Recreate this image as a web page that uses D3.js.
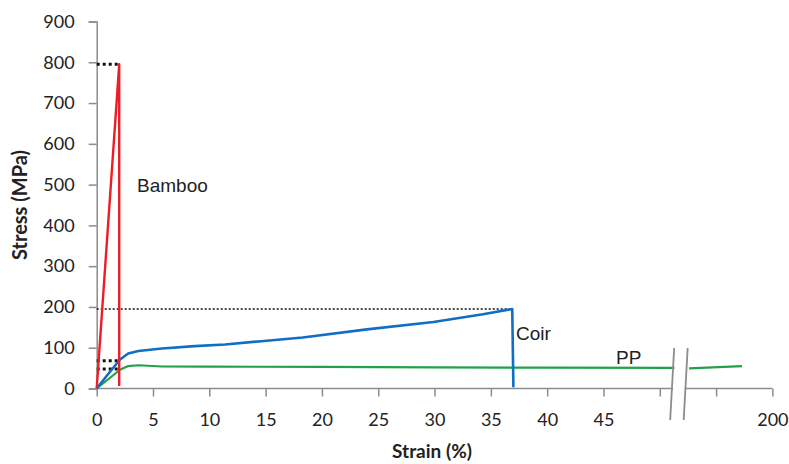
<!DOCTYPE html>
<html><head><meta charset="utf-8">
<script src="https://cdn.jsdelivr.net/npm/d3@7"></script>
<style>html,body{margin:0;padding:0;background:#fff;}svg{display:block;}</style>
</head><body>
<script>
// Axis ticks (display units; after the break 60 stands for 200 %)
const strainTicks = [0,5,10,15,20,25,30,35,40,45,50,55,60];
const strainTickLabels = ["0","5","10","15","20","25","30","35","40","45","","","200"];
const stressTicks = [0,100,200,300,400,500,600,700,800,900];

// Bamboo
const bambooStrain = [0, 2.0, 2.0];
const bambooStress = [0, 795, 6];

// Coir
const coirStrain = [0, 1.0, 2.07, 2.8, 3.7, 5.8, 8.7, 11.4, 14.6, 18.3, 24, 29.9, 34.3, 36.9, 37.0];
const coirStress = [0, 35, 71, 86, 92, 98, 104, 108, 116, 125, 145, 163, 182, 195, 3];

// PP (two segments either side of the axis break)
const ppStrainA = [0, 2.07, 2.8, 3.7, 5.8, 10, 20, 30, 40, 51.3];
const ppStressA = [0, 46, 55, 57, 54, 53.5, 53, 52, 51, 50.5];
const ppStrainB = [52.6, 57.3];
const ppStressB = [49.5, 55];

// Reference (dotted) levels
const refLevels = [795, 195, 68, 48];
const refEnds = [2.0, 36.9, 2.07, 2.07];

const W = 789, H = 464;
const svg = d3.select("body").append("svg").attr("width", W).attr("height", H);
const x = d3.scaleLinear().domain([0, 60]).range([96.7, 772.4]);
const y = d3.scaleLinear().domain([0, 900]).range([388.5, 21.5]);
const font = "Lato, 'Open Sans', sans-serif";
const axisColor = "#8c8c8c";

// Axes
const gx = svg.append("g").attr("transform", `translate(0,${y(0)})`)
  .call(d3.axisBottom(x).tickValues(strainTicks).tickSize(8).tickPadding(17)
    .tickFormat((d,i) => strainTickLabels[i]));
const gy = svg.append("g").attr("transform", `translate(${x(0)},0)`)
  .call(d3.axisLeft(y).tickValues(stressTicks).tickSize(8).tickPadding(14));
[gx, gy].forEach(g => {
  g.select(".domain").attr("stroke", axisColor).attr("stroke-width", 1.5);
  g.selectAll(".tick line").attr("stroke", axisColor).attr("stroke-width", 1.5);
  g.selectAll(".tick text").attr("fill", "#222").style("font-family", font).style("font-size", "18px");
});
gx.select(".domain").attr("d", `M${x(0)},0H${x(60)}`);

// Reference dotted lines
const line = d3.line().x(d => x(d[0])).y(d => y(d[1]));
refLevels.forEach((v, i) => {
  svg.append("path").attr("d", line([[0, v], [refEnds[i], v]]))
    .attr("fill", "none").attr("stroke", "#111")
    .attr("stroke-width", i === 1 ? 1.6 : 3)
    .attr("stroke-dasharray", i === 1 ? "2,2" : "3,3");
});

function series(xs, ys, color, w) {
  svg.append("path").attr("d", line(xs.map((d, i) => [d, ys[i]])))
    .attr("fill", "none").attr("stroke", color).attr("stroke-width", w)
    .attr("stroke-linejoin", "round");
}
series(ppStrainA, ppStressA, "#1fa24a", 2.2);
series(ppStrainB, ppStressB, "#1fa24a", 2.2);
series(coirStrain, coirStress, "#106fc4", 2.6);
series(bambooStrain, bambooStress, "#ee1c24", 2.4);

// Axis break
const bx1 = x(51.1), bx2 = x(52.3);
svg.append("rect").attr("x", bx1 + 1).attr("y", y(0) - 3).attr("width", bx2 - bx1 - 2).attr("height", 14).attr("fill", "#fff");
[bx1, bx2].forEach(b => {
  svg.append("line").attr("x1", b - 2).attr("y1", 420).attr("x2", b + 2).attr("y2", 348)
    .attr("stroke", "#8c8c8c").attr("stroke-width", 1.8);
});

// Series labels
const lab = (t, xx, yy) => svg.append("text").attr("x", xx).attr("y", yy).text(t)
  .attr("fill", "#222").style("font-family", "Arial, 'Liberation Sans', sans-serif").style("font-size", "19px");
lab("Bamboo", 137, 192);
lab("Coir", 516, 340);
lab("PP", 616, 364);

// Axis titles
svg.append("text").attr("x", 432).attr("y", 458).attr("text-anchor", "middle").text("Strain (%)")
  .attr("fill", "#222").style("font-family", font).style("font-weight", "bold").style("font-size", "19px");
svg.append("text").attr("transform", "translate(27,205) rotate(-90)").attr("text-anchor", "middle").text("Stress (MPa)")
  .attr("fill", "#222").style("font-family", font).style("font-weight", "bold").style("font-size", "20px");
</script>
</body></html>
